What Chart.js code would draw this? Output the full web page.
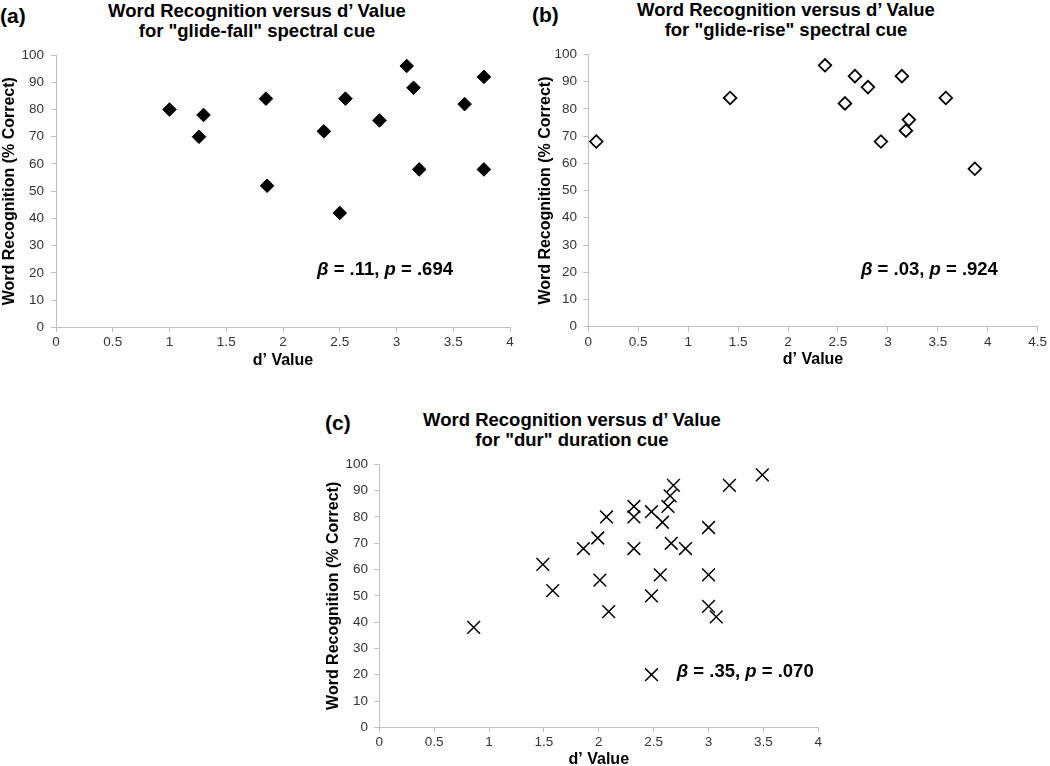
<!DOCTYPE html>
<html><head><meta charset="utf-8">
<script src="https://cdn.jsdelivr.net/npm/chart.js@4"></script>
<style>
html,body{margin:0;padding:0;background:#fff;width:1050px;height:766px;overflow:hidden;position:relative;font-family:"Liberation Sans",Arial,sans-serif;}
canvas{position:absolute;}
.t{position:absolute;font-weight:bold;font-size:18.5px;line-height:20px;text-align:center;color:#000;width:400px;white-space:nowrap}
.lab{position:absolute;font-weight:bold;font-size:21px;line-height:24px;color:#000}
</style></head><body>
<div class="lab" style="left:0px;top:4px">(a)</div>
<div class="lab" style="left:532px;top:3px">(b)</div>
<div class="lab" style="left:325px;top:411px">(c)</div>
<div class="t" id="tA" style="left:57px;top:1px"></div>
<div class="t" id="tB" style="left:586px;top:0px"></div>
<div class="t" id="tC" style="left:372px;top:410px"></div>
<script>
// ---- data ----
const dValueA = [1.00, 1.26, 1.30, 1.85, 1.86, 2.36, 2.50, 2.55, 2.85, 3.09, 3.15, 3.20, 3.60, 3.77, 3.77];
const wordRecA = [80, 70, 78, 84, 52, 72, 42, 84, 76, 96, 88, 58, 82, 92, 58];

const dValueB = [0.08, 1.42, 2.37, 2.57, 2.67, 2.80, 2.93, 3.14, 3.18, 3.21, 3.58, 3.87];
const wordRecB = [68, 84, 96, 82, 92, 88, 68, 92, 72, 76, 84, 58];

const dValueC = [0.86, 1.49, 1.58, 1.86, 1.99, 2.01, 2.07, 2.09, 2.32, 2.32, 2.32, 2.48, 2.48, 2.48, 2.58, 2.56, 2.63, 2.65, 2.68, 2.66, 2.79, 3.00, 3.00, 3.00, 3.07, 3.19, 3.49];
const wordRecC = [38, 62, 52, 68, 72, 56, 80, 44, 84, 80, 68, 82, 50, 20, 78, 58, 84, 88, 92, 70, 68, 76, 58, 46, 42, 92, 96];

const xMaxA = 4, xMaxB = 4.5, xMaxC = 4;
const xStep = 0.5;
const yMin = 0, yMax = 100, yStep = 10;

const titleA = ['Word Recognition versus d’ Value', 'for "glide-fall" spectral cue'];
const titleB = ['Word Recognition versus d’ Value', 'for "glide-rise" spectral cue'];
const titleC = ['Word Recognition versus d’ Value', 'for "dur" duration cue'];
const xAxisTitle = 'd’ Value';
const yAxisTitle = 'Word Recognition (% Correct)';

const statA = ['β', ' = .11, ', 'p', ' = .694'];
const statB = ['β', ' = .03, ', 'p', ' = .924'];
const statC = ['β', ' = .35, ', 'p', ' = .070'];

// ---- rendering ----
[['tA', titleA], ['tB', titleB], ['tC', titleC]].forEach(([id, lines]) => {
  const el = document.getElementById(id);
  lines.forEach((ln, i) => {
    if (i) el.appendChild(document.createElement('br'));
    el.appendChild(document.createTextNode(ln));
  });
});

const FF = '"Liberation Sans", Arial, sans-serif';

const statPlugin = {
  id: 'stat',
  afterDatasetsDraw(chart, args, opts) {
    const ctx = chart.ctx;
    let x = chart.scales.x.getPixelForValue(opts.x);
    const y = chart.scales.y.getPixelForValue(opts.y);
    ctx.save();
    ctx.fillStyle = '#000';
    ctx.textBaseline = 'middle';
    ctx.textAlign = 'left';
    opts.parts.forEach((p, i) => {
      ctx.font = (i % 2 === 0 ? 'italic ' : '') + 'bold ' + opts.size + 'px ' + FF;
      ctx.fillText(p, x, y);
      x += ctx.measureText(p).width;
    });
    ctx.restore();
  }
};

function makePanel(cfg) {
  const cv = document.createElement('canvas');
  const [L, T, W, H] = cfg.box;
  cv.width = W; cv.height = H;
  cv.style.left = L + 'px'; cv.style.top = T + 'px';
  cv.style.width = W + 'px'; cv.style.height = H + 'px';
  document.body.appendChild(cv);
  const [al, at, ar, ab] = cfg.area;
  const TL = 5, FS_T = 16, LH_T = FS_T * 1.2, FS_K = 13.5, LH_K = FS_K * 1.2;
  const data = cfg.d.map((v, i) => ({x: v, y: cfg.w[i]}));
  new Chart(cv, {
    type: 'scatter',
    data: {datasets: [{
      data,
      pointStyle: cfg.style,
      pointRadius: cfg.r, pointHoverRadius: cfg.r,
      backgroundColor: cfg.bg, borderColor: '#000', borderWidth: cfg.bw,
      clip: false
    }]},
    options: {
      responsive: false, animation: false, devicePixelRatio: 1,
      events: [],
      layout: {padding: {left: 0, top: at - T, right: (L + W) - ar, bottom: 0}},
      plugins: {
        legend: {display: false}, tooltip: {enabled: false},
        stat: {x: cfg.sx, y: cfg.sy, parts: cfg.stat, size: 18.5}
      },
      scales: {
        x: {
          type: 'linear', position: 'bottom', min: 0, max: cfg.xmax,
          ticks: {stepSize: xStep, font: {family: FF, size: FS_K}, color: '#333',
                  callback: v => String(Math.round(v * 10) / 10),
                  padding: cfg.xLabY - ab - TL - LH_K / 2, maxRotation: 0, autoSkip: false},
          grid: {drawOnChartArea: false, drawTicks: true, tickLength: TL, color: '#c0c0c0'},
          border: {color: '#c0c0c0'},
          title: {display: true, text: xAxisTitle, font: {family: FF, size: FS_T, weight: 'bold'}, color: '#000',
                  padding: {top: 0, bottom: (T + H) - cfg.xTitleY - LH_T / 2}},
          afterFit: s => { s.height = (T + H) - ab; }
        },
        y: {
          type: 'linear', position: 'left', min: yMin, max: yMax,
          ticks: {stepSize: yStep, font: {family: FF, size: FS_K}, color: '#333',
                  padding: al - cfg.yLabR - TL, autoSkip: false},
          grid: {drawOnChartArea: false, drawTicks: true, tickLength: TL, color: '#c0c0c0'},
          border: {color: '#c0c0c0'},
          title: {display: true, text: yAxisTitle, font: {family: FF, size: FS_T, weight: 'bold'}, color: '#000',
                  padding: {top: cfg.yTitleX - L - LH_T / 2, bottom: 0}},
          afterFit: s => { s.width = al - L; }
        }
      }
    },
    plugins: [statPlugin]
  });
}

makePanel({box: [0, 40, 530, 340], area: [56, 54.5, 510, 327.3], yLabR: 44, yTitleX: 10, xLabY: 342.7, xTitleY: 361,
  d: dValueA, w: wordRecA, xmax: xMaxA, style: 'rectRot', r: 6.8, bg: '#000', bw: 1,
  sx: 2.30, sy: 21, stat: statA});
makePanel({box: [530, 40, 520, 340], area: [588.3, 52.3, 1040, 326.7], yLabR: 577, yTitleX: 546, xLabY: 342.7, xTitleY: 360,
  d: dValueB, w: wordRecB, xmax: xMaxB, style: 'rectRot', r: 6.3, bg: '#fff', bw: 1.8,
  sx: 2.73, sy: 21, stat: statB});
makePanel({box: [320, 450, 530, 316], area: [379.3, 463.3, 818.3, 727.3], yLabR: 368, yTitleX: 334, xLabY: 742, xTitleY: 759.5,
  d: dValueC, w: wordRecC, xmax: xMaxC, style: 'crossRot', r: 9, bg: '#000', bw: 1.5,
  sx: 2.71, sy: 21, stat: statC});
</script>
</body></html>
